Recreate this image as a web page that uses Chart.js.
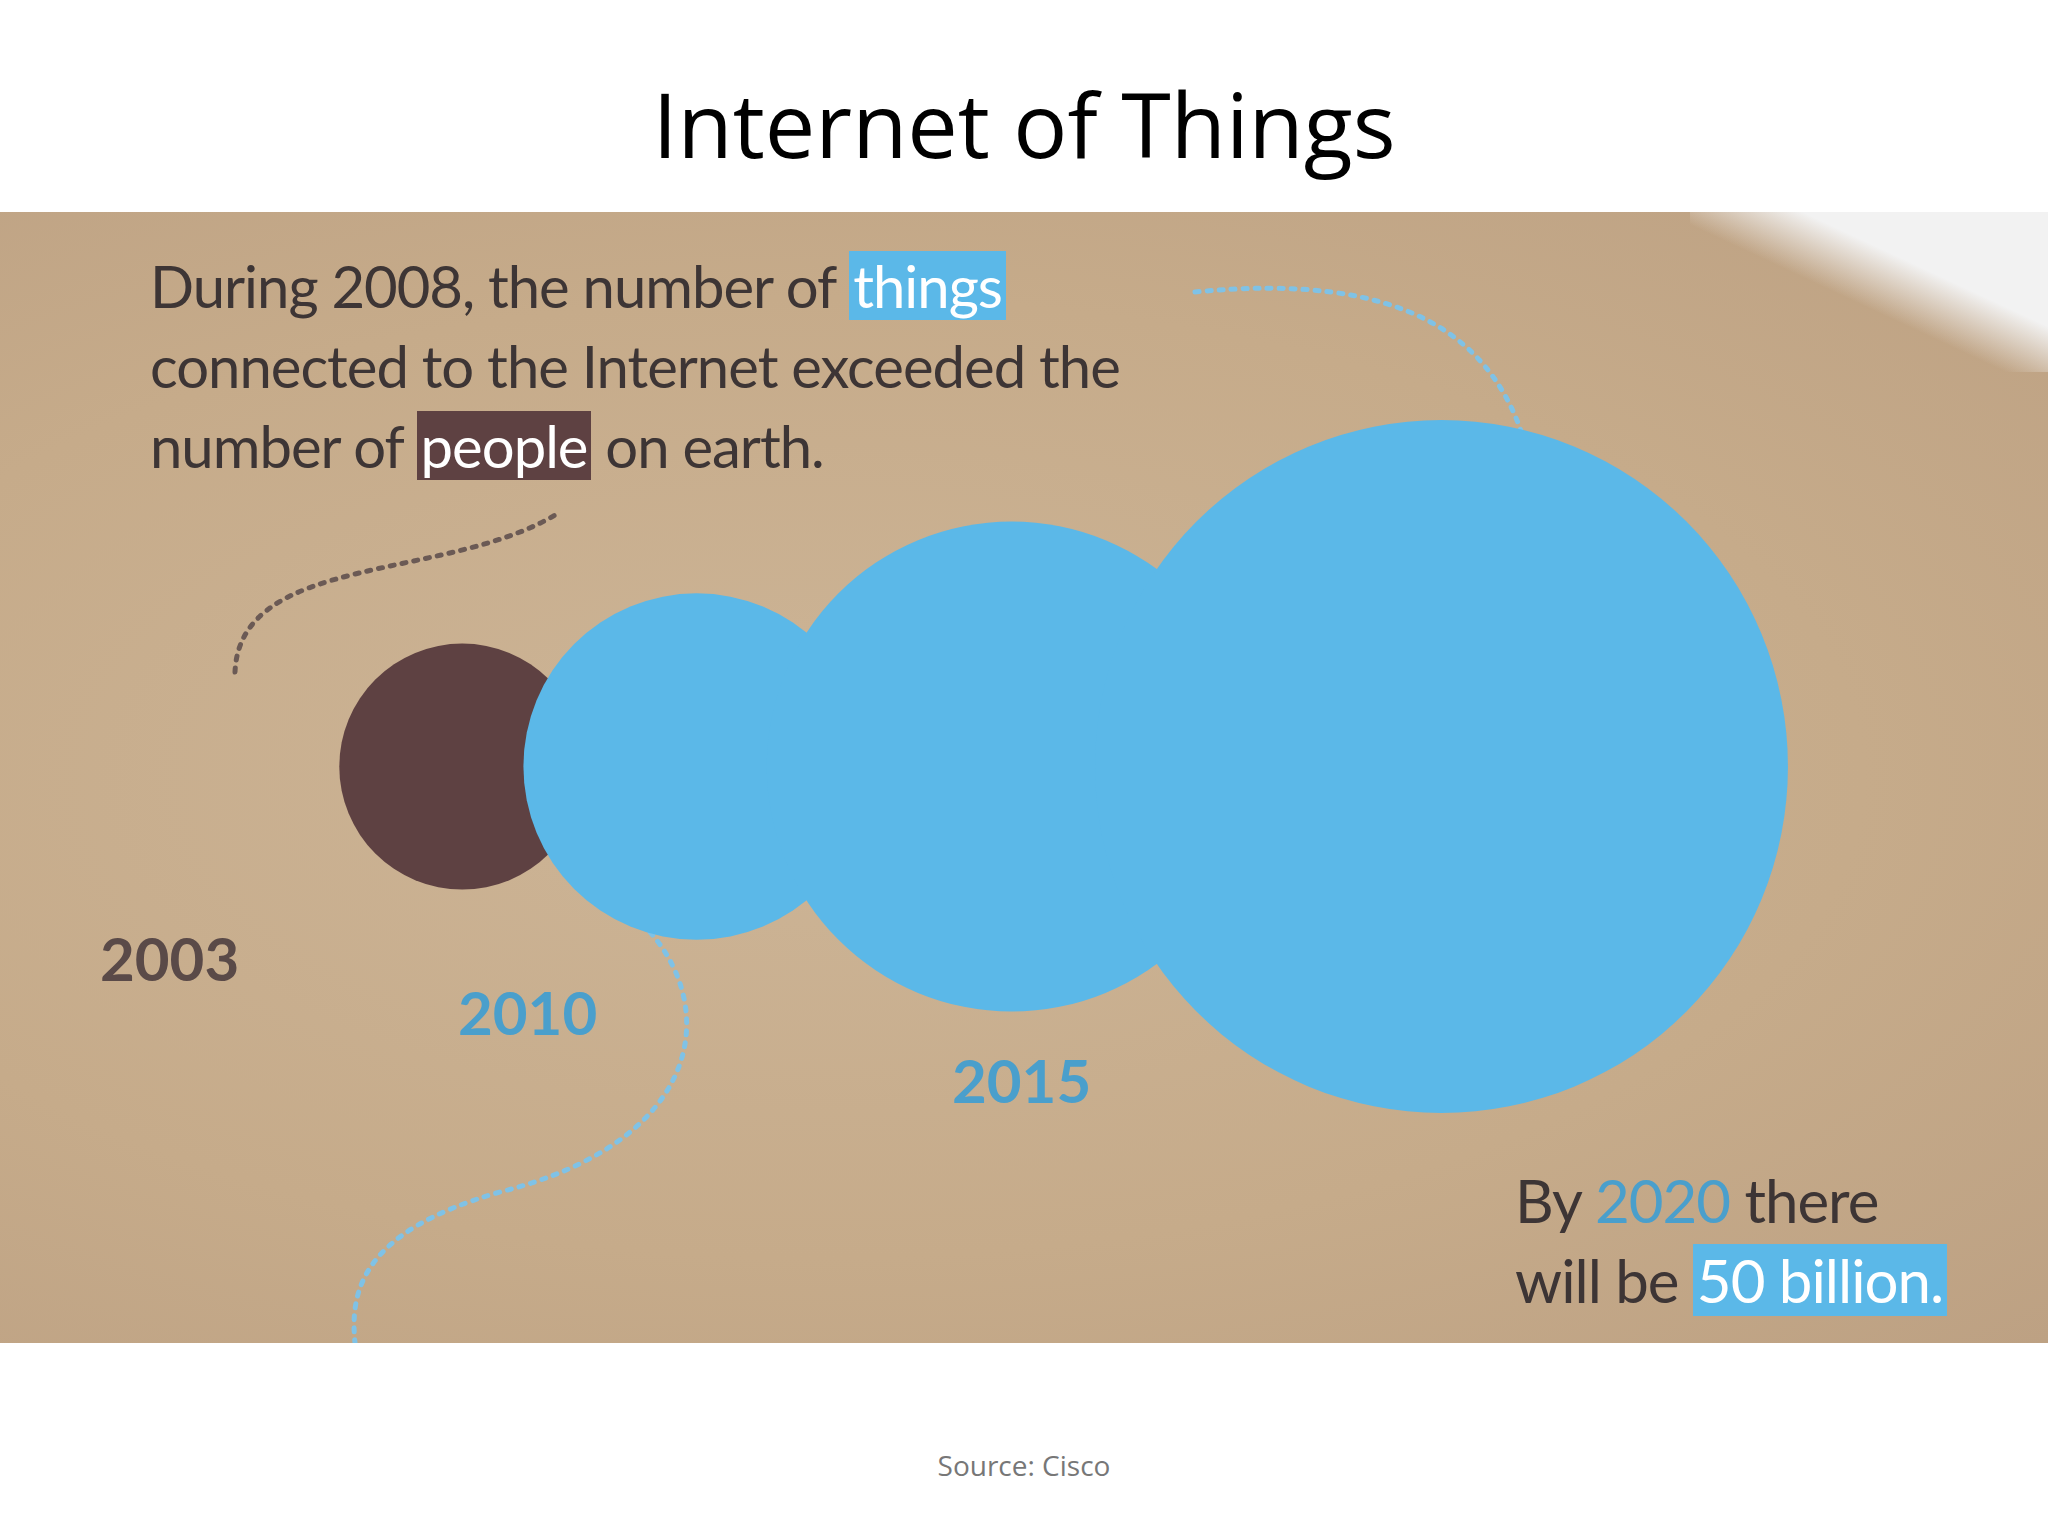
<!DOCTYPE html>
<html><head><meta charset="utf-8">
<script src="https://cdn.jsdelivr.net/npm/chart.js@4"></script>
<style>
body{margin:0;width:2048px;height:1536px;background:#fff;position:relative;overflow:hidden;font-family:Lato,"Open Sans",sans-serif}
#title{position:absolute;top:62px;left:0;width:2048px;text-align:center;font-family:"Open Sans",sans-serif;font-size:90px;color:#000}
#band{position:absolute;top:212px;left:0;width:2048px;height:1131px;background:radial-gradient(ellipse at 40% 50%,#cdb597 0%,#c6ab8a 60%,#bda183 100%)}
#corner{position:absolute;top:212px;left:1690px;width:358px;height:160px;background:linear-gradient(205deg,#f2f2f2 35%,rgba(242,242,242,0) 55%)}
canvas{position:absolute;top:212px;left:0}
.t{position:absolute;color:#3d3535;font-size:58px;line-height:80px;letter-spacing:-1px}
.hb{background:#5bb8e8;color:#fff;padding:0 4px}
.hp{background:#5e4142;color:#fff;padding:0 4px}
.yr{position:absolute;font-size:60px;font-weight:bold;}
#src{position:absolute;top:1446px;width:2048px;text-align:center;color:#777;font-size:28px;font-family:"Open Sans",sans-serif}
</style></head><body>
<div id="title">Internet of Things</div>
<div id="band"></div><div id="corner"></div>
<canvas id="c" width="2048" height="1131"></canvas>
<div class="t" style="left:150px;top:246px">During 2008, the number of <span class="hb">things</span><br>connected to the Internet exceeded the<br>number of <span class="hp">people</span> on earth.</div>
<div class="yr" style="left:100px;top:922px;color:#5a4a48">2003</div>
<div class="yr" style="left:458px;top:976px;color:#4a9fcc">2010</div>
<div class="yr" style="left:952px;top:1044px;color:#4a9fcc">2015</div>
<div class="t" style="left:1515px;top:1160px;font-size:60px">By <span style="color:#4a9fcc">2020</span> there<br>will be <span class="hb">50 billion.</span></div>
<div id="src">Source: Cisco</div>
<script>
const years=["2003","2010","2015","2020"];
const people=[6.3,6.8,7.2,7.6];      // billions
const things=[0.5,12.5,25,50];       // billions
const BLUE="#5bb8e8",BROWN="#5e4142";
const k=49,gap=58,startX=175;
const rad=v=>k*Math.sqrt(v);
const outer=[],inner=[];let x=startX,prevR=0;
years.forEach((y,i)=>{
  const tb=things[i]>people[i];
  const R=rad(Math.max(things[i],people[i]));
  if(i>0)x+=prevR+R+gap;prevR=R;
  outer.push({x:x,y:0,v:Math.max(things[i],people[i]),c:tb?BLUE:BROWN});
  inner.push({x:x,y:0,v:Math.min(things[i],people[i]),c:tb?BROWN:BLUE});
});
const dots={id:'dots',beforeDatasetsDraw(ch){
  const g=ch.ctx;g.save();g.setLineDash([4,8]);g.lineWidth=5;g.lineCap='round';
  g.strokeStyle='#6b5a55';g.beginPath();g.moveTo(235,460);g.bezierCurveTo(240,340,450,370,560,300);g.stroke();
  g.strokeStyle='#7fc2e6';g.beginPath();g.moveTo(1195,80);g.bezierCurveTo(1400,60,1500,120,1530,250);g.stroke();
  g.beginPath();g.moveTo(650,720);g.bezierCurveTo(720,800,700,930,500,980);g.bezierCurveTo(360,1020,350,1080,355,1131);g.stroke();
  g.restore();}};
const ds=(arr,lab)=>({label:lab,data:arr,showLine:false,clip:false,borderWidth:0,
  pointBackgroundColor:arr.map(p=>p.c),pointBorderWidth:0,
  pointRadius:arr.map(p=>rad(p.v)),pointHoverRadius:arr.map(p=>rad(p.v))});
new Chart(document.getElementById('c'),{type:'scatter',
 data:{datasets:[ds(outer,'outer'),ds(inner,'inner')]},
 options:{responsive:false,devicePixelRatio:1,animation:false,events:[],layout:{padding:0},
  plugins:{legend:{display:false},tooltip:{enabled:false}},
  scales:{x:{type:'linear',display:false,min:0,max:2048,offset:false,grace:0},y:{display:false,min:-1.05,max:0.95,grace:0}}},
 plugins:[dots]});
</script></body></html>
